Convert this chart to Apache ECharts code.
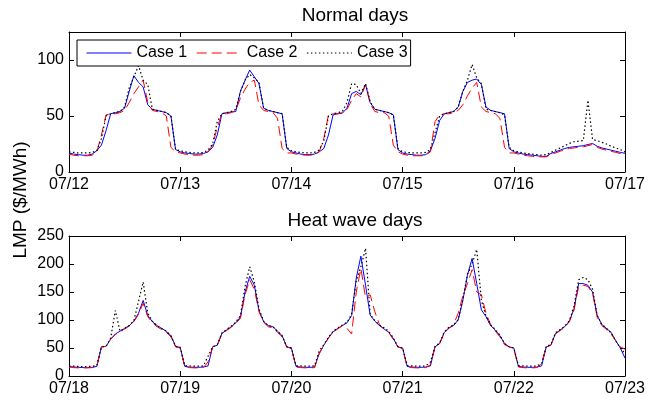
<!DOCTYPE html>
<html>
<head>
<meta charset="utf-8">
<script src="https://cdn.jsdelivr.net/npm/echarts@6/dist/echarts.min.js"></script>
<style>
	html, body { margin: 0; padding: 0; background: #fff; }
	#chart { width: 662px; height: 401px; }
</style>
</head>
<body>
<div id="chart"></div>
<script>
// hourly LMP, 5 days per panel (121 points, last one is midnight of the 6th day)
let normalDays = ['07/12', '07/13', '07/14', '07/15', '07/16', '07/17'];
let heatDays = ['07/18', '07/19', '07/20', '07/21', '07/22', '07/23'];
let caseNames = ['Case 1', 'Case 2', 'Case 3'];

let normalCase1 = [
	17, 16, 15.5, 15, 15, 16, 19, 24, 37, 52, 53, 54, 57, 72, 86, 80, 76, 60, 56, 55, 54, 53, 50, 20,
	18, 17, 16.5, 16, 16, 16.5, 18, 22, 33, 52, 53, 53.5, 54, 72, 82, 91, 85, 79, 57, 55, 54, 53, 52, 21,
	18, 17, 16, 15.5, 15.5, 16, 18, 21, 33, 51, 52, 52.5, 57, 70, 72, 69, 78, 62, 56, 55, 54, 53, 51, 20,
	17, 16, 15.5, 15, 15, 15.5, 19, 30, 46, 52, 53, 54, 58, 72, 80, 82, 83, 78, 58, 55, 54, 53, 52, 21,
	18, 17, 16, 15.5, 15, 14.5, 14, 14, 16.5, 18, 19.5, 21, 22, 22.5, 23, 23.5, 24.5, 25.5, 23, 21.5, 20.5, 19.5, 18.5, 17.5, 16.7,
];
let normalCase2 = [
	16, 15, 14.5, 14.5, 14.5, 15, 18, 33, 51, 52, 52, 53, 55, 62, 70, 76, 82, 62, 55, 54, 53, 50, 22, 18,
	17, 16, 15.5, 15, 15, 15.5, 18, 24, 40, 52, 52, 53, 55, 66, 74, 80, 82, 60, 55, 54, 53, 48, 21, 17,
	17, 16, 15.5, 15, 15, 15.5, 18, 30, 51, 52, 52, 53, 56, 64, 70, 67, 78, 61, 54, 53, 53, 50, 24, 18,
	16, 15, 14.5, 14.5, 14.5, 15, 18, 45, 51, 52, 52, 53, 55, 60, 68, 75, 80, 58, 54, 53, 52, 48, 22, 17,
	17, 16, 15, 14.5, 14, 13.5, 13.5, 13.5, 15.5, 17, 18.5, 20, 21, 21.5, 22, 22.5, 23.5, 24.5, 22, 20.5, 19.5, 18.5, 17.5, 16.5, 16,
];
let normalCase3 = [
	18, 17.5, 17, 17, 17, 17.5, 19, 30, 50, 52, 53, 54, 58, 75, 85, 95, 82, 78, 56, 55, 54, 53, 50, 20,
	19, 18, 17.5, 17, 17, 17.5, 19.5, 25, 45, 52, 53, 54, 56, 72, 82, 87, 84, 80, 57, 55, 54, 53, 52, 22,
	19, 18, 17.5, 17, 17, 17.5, 19.5, 28, 50, 52, 53, 54, 62, 79, 78, 70, 79, 63, 56, 55, 54, 53, 51, 21,
	18, 17.5, 17, 17, 17, 17.5, 20, 35, 50, 52, 53, 54, 58, 72, 82, 96, 84, 79, 56, 55, 54, 53, 51, 22,
	19, 18, 17, 16.5, 16, 15.5, 15, 15.5, 17.5, 19.5, 21.5, 23.5, 25.5, 27, 27.5, 28, 64, 29, 28, 26.5, 25, 23, 21.5, 20, 18,
];

let heatCase1 = [
	17, 16, 15.5, 15, 15, 15.5, 17, 52, 53, 66, 75, 80, 85, 90, 98, 112, 135, 108, 97, 90, 85, 80, 72, 53,
	51, 17, 16, 15.5, 15.5, 16, 18, 52, 55, 76, 82, 88, 95, 105, 150, 178, 162, 117, 97, 90, 88, 80, 72, 52,
	50, 17, 16, 15.5, 15.5, 16, 40, 55, 68, 79, 85, 90, 95, 108, 175, 214, 162, 109, 98, 90, 84, 78, 67, 52,
	50, 17, 16, 15.5, 15.5, 16, 18, 52, 58, 78, 86, 90, 100, 135, 180, 210, 165, 118, 106, 90, 82, 72, 58, 52,
	50, 17, 16, 15.5, 15.5, 16, 18, 52, 55, 76, 82, 88, 98, 120, 165, 165, 162, 150, 108, 92, 85, 78, 63, 50, 32,
];
let heatCase2 = [
	16, 15, 14.5, 14.5, 14.5, 15, 16.5, 52, 53, 66, 74, 79, 84, 89, 97, 110, 130, 106, 95, 88, 83, 78, 70, 52,
	50, 16, 15, 14.5, 14.5, 15, 25, 52, 55, 75, 81, 87, 94, 103, 145, 172, 155, 115, 96, 88, 86, 78, 70, 52,
	49, 16, 15, 14.5, 14.5, 15, 40, 55, 68, 78, 84, 90, 85, 75, 150, 192, 140, 145, 115, 92, 84, 78, 65, 52,
	49, 16, 15, 14.5, 14.5, 15, 20, 52, 58, 77, 85, 92, 112, 143, 165, 190, 150, 145, 112, 92, 80, 70, 56, 52,
	49, 16, 15, 14.5, 14.5, 15, 22, 52, 55, 75, 81, 87, 97, 118, 160, 162, 160, 148, 105, 90, 83, 75, 63, 52, 48,
];
let heatCase3 = [
	18, 17.5, 17, 17, 17, 17.5, 19, 52, 53, 68, 117, 80, 85, 90, 99, 133, 168, 112, 98, 90, 85, 80, 72, 53,
	51, 18.5, 18, 17.5, 17.5, 18, 35, 52, 56, 77, 83, 89, 96, 108, 160, 195, 168, 120, 98, 90, 88, 80, 72, 52,
	50, 18.5, 18, 17.5, 17.5, 18, 45, 56, 69, 80, 86, 91, 96, 110, 170, 195, 228, 110, 99, 91, 86, 80, 68, 52,
	50, 18.5, 18, 17.5, 17.5, 18, 25, 53, 59, 79, 87, 91, 101, 136, 182, 200, 226, 135, 107, 91, 83, 73, 58, 52,
	50, 18.5, 18, 17.5, 17.5, 18, 22, 53, 56, 77, 83, 89, 99, 125, 172, 176, 172, 155, 108, 92, 85, 77, 63, 50, 40,
];

let fontFam = 'Liberation Sans, Arial, Helvetica, sans-serif';
let lineStyles = [
	{ color: '#0000ff', width: 1, type: 'solid' },
	{ color: '#ff0000', width: 1, type: [10, 5] },
	{ color: '#000000', width: 1.2, type: [1.5, 2.5] },
];

function toPoints(vals) {
	return vals.map((v, i) => [i, v]);
}

function makeXAxis(grid, days, top) {
	return {
		type: 'value',
		gridIndex: grid,
		position: top ? 'top' : 'bottom',
		min: 0,
		max: 120,
		interval: 24,
		axisLine: { show: true, onZero: false, lineStyle: { color: '#000', width: 1 } },
		axisTick: { show: true, inside: true, length: 5, lineStyle: { color: '#000' } },
		axisLabel: {
			show: !top,
			color: '#000',
			fontSize: 16,
			fontFamily: fontFam,
			margin: 5,
			formatter: (v) => days[Math.round(v / 24)],
		},
		splitLine: { show: false },
	};
}

function makeYAxis(grid, max, right) {
	return {
		type: 'value',
		gridIndex: grid,
		position: right ? 'right' : 'left',
		min: 0,
		max: max,
		interval: 50,
		axisLine: { show: true, onZero: false, lineStyle: { color: '#000', width: 1 } },
		axisTick: { show: true, inside: true, length: 5, lineStyle: { color: '#000' } },
		axisLabel: {
			show: !right,
			color: '#000',
			fontSize: 16,
			fontFamily: fontFam,
			margin: 5,
			formatter: (v) => (v % 50 === 0 ? String(v) : ''),
		},
		splitLine: { show: false },
	};
}

let series = [];
[normalCase1, normalCase2, normalCase3].forEach((vals, k) => {
	series.push({
		name: caseNames[k],
		type: 'line',
		xAxisIndex: 0,
		yAxisIndex: 0,
		symbol: 'none',
		data: toPoints(vals),
		lineStyle: lineStyles[k],
		itemStyle: { color: lineStyles[k].color, opacity: 0 },
	});
});
[heatCase1, heatCase2, heatCase3].forEach((vals, k) => {
	series.push({
		name: caseNames[k],
		type: 'line',
		xAxisIndex: 2,
		yAxisIndex: 2,
		symbol: 'none',
		data: toPoints(vals),
		lineStyle: lineStyles[k],
		itemStyle: { color: lineStyles[k].color, opacity: 0 },
	});
});

let myChart = echarts.init(document.getElementById('chart'), null, { renderer: 'canvas' });
let option = {
	animation: false,
	backgroundColor: '#fff',
	grid: [
		{ left: 69, top: 32, width: 556, height: 140 },
		{ left: 69, top: 236, width: 556, height: 140 },
	],
	xAxis: [
		makeXAxis(0, normalDays, false),
		makeXAxis(0, normalDays, true),
		makeXAxis(1, heatDays, false),
		makeXAxis(1, heatDays, true),
	],
	yAxis: [
		makeYAxis(0, 125, false),
		makeYAxis(0, 125, true),
		makeYAxis(1, 250, false),
		makeYAxis(1, 250, true),
	],
	legend: {
		data: caseNames,
		left: 77,
		top: 40,
		orient: 'horizontal',
		itemWidth: 45,
		itemHeight: 14,
		itemGap: 9,
		padding: [5, 3, 5, 9],
		backgroundColor: '#fff',
		borderColor: '#000',
		borderWidth: 1,
		borderRadius: 0,
		selectedMode: false,
		itemStyle: { opacity: 0 },
		lineStyle: { width: 1 },
		textStyle: { color: '#000', fontSize: 16, fontFamily: fontFam },
	},
	graphic: [
		{
			type: 'text',
			x: 355,
			y: 16,
			style: { text: 'Normal days', fill: '#000', font: '19px ' + fontFam, textAlign: 'center', textVerticalAlign: 'middle' },
		},
		{
			type: 'text',
			x: 355,
			y: 221,
			style: { text: 'Heat wave days', fill: '#000', font: '19px ' + fontFam, textAlign: 'center', textVerticalAlign: 'middle' },
		},
		{
			type: 'text',
			x: 21,
			y: 200,
			rotation: Math.PI / 2,
			style: { text: 'LMP ($/MWh)', fill: '#000', font: '19px ' + fontFam, textAlign: 'center', textVerticalAlign: 'middle' },
		},
	],
	series: series,
};
option && myChart.setOption(option);
</script>
</body>
</html>
